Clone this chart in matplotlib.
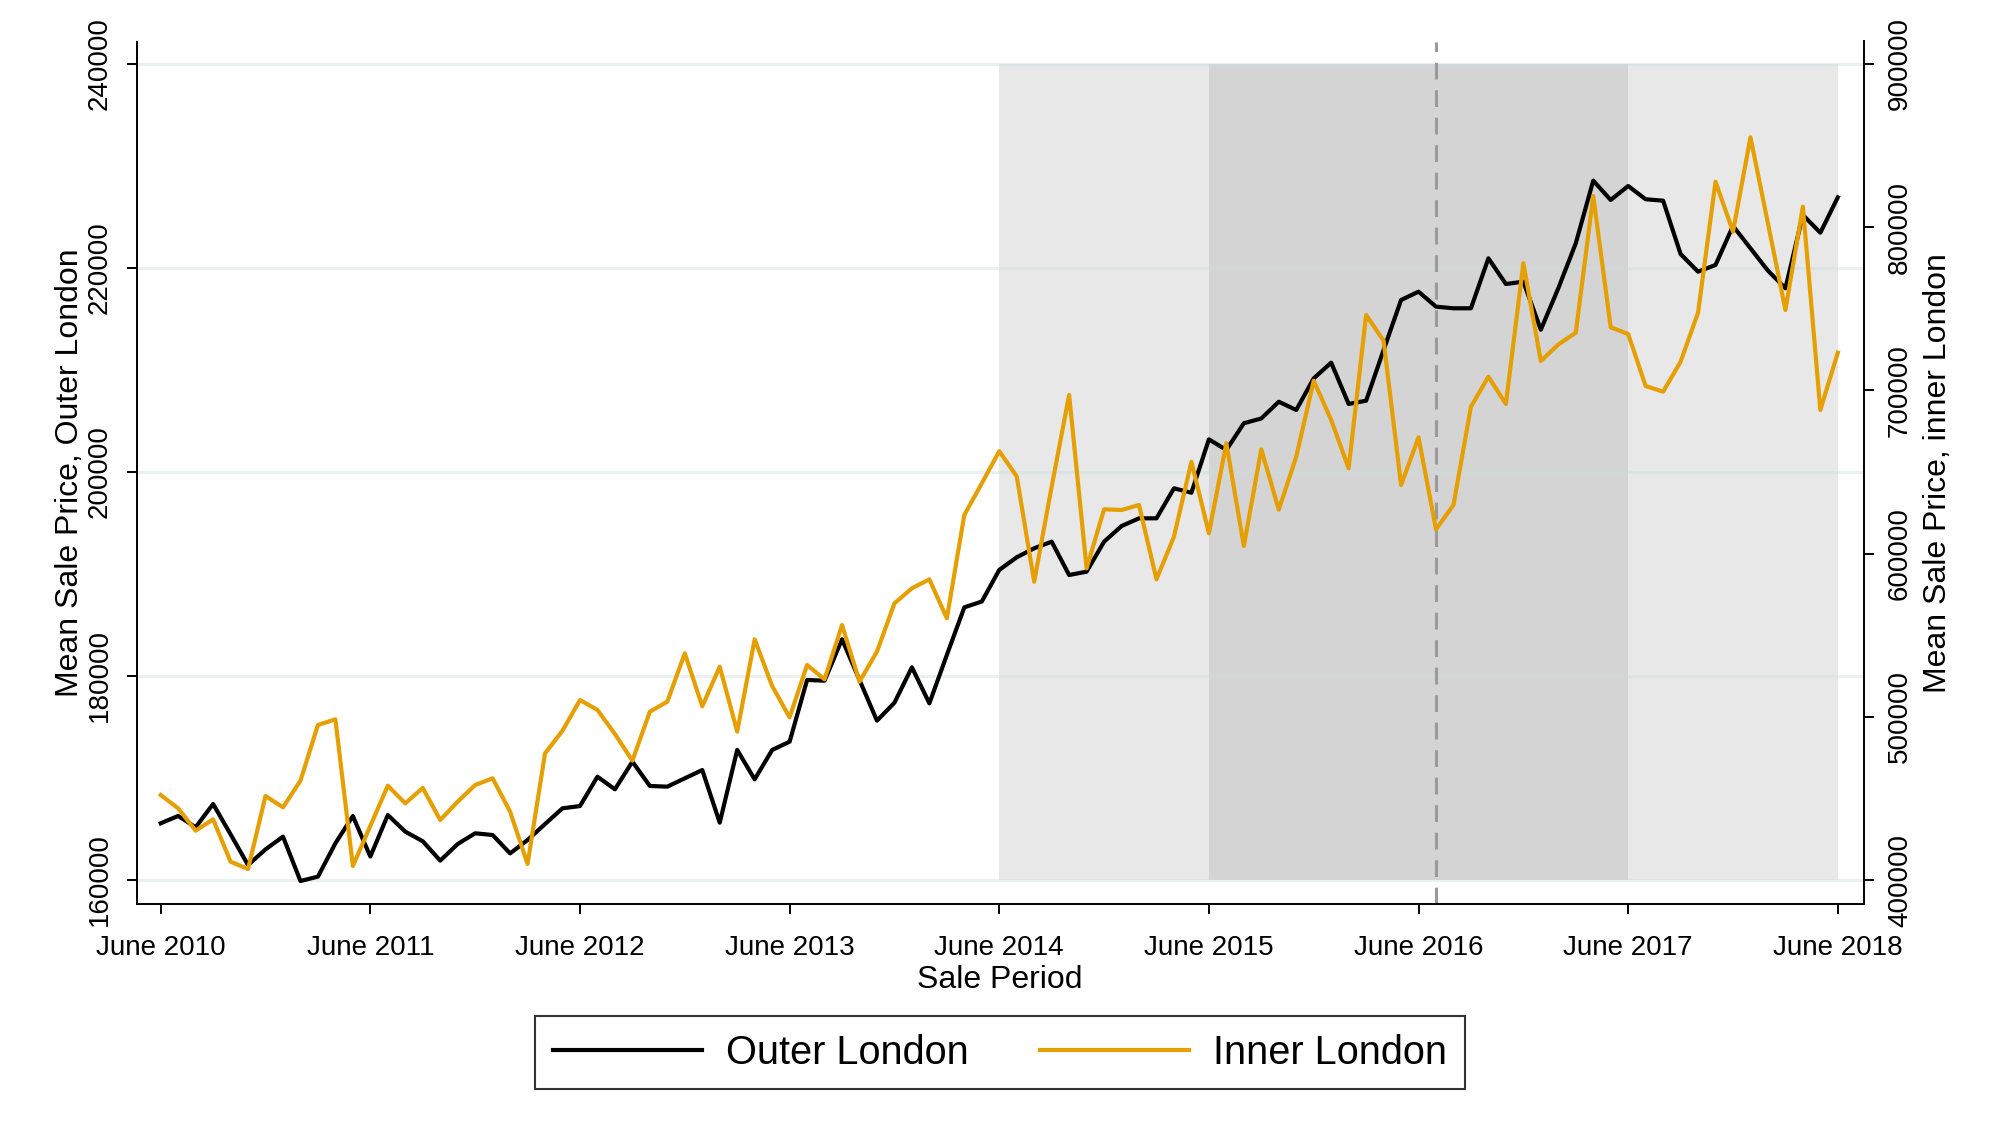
import numpy as np
import matplotlib
matplotlib.use("Agg")
import matplotlib.pyplot as plt

plt.rcParams['font.family'] = ['Liberation Sans', 'DejaVu Sans']

# ---- data (monthly, June 2010 .. June 2018) ----
outer_london = [165560, 166280, 165170, 167450, 164480, 161470, 163000, 164250, 159900, 160330,
                163600, 166270, 162300, 166370, 164740, 163800, 161900, 163530, 164580, 164410,
                162610, 163920, 165490, 167030, 167250, 170130, 168890, 171600, 169220, 169150,
                169970, 170780, 165620, 172750, 169870, 172750, 173560, 179610, 179540, 183600,
                179610, 175620, 177380, 180850, 177320, 182060, 186730, 187300, 190400, 191640,
                192520, 193170, 189900, 190230, 193170, 194700, 195460, 195460, 198400, 197970,
                203200, 202160, 204780, 205250, 206890, 206080, 209180, 210720, 206670, 206990,
                211960, 216860, 217680, 216210, 216050, 216050, 220950, 218430, 218660, 213950,
                218010, 222420, 228560, 226670, 228040, 226740, 226600, 221370, 219640, 220300,
                224120, 221930, 219740, 218010, 225200, 223460, 226930]
inner_london = [452080, 443900, 430230, 437180, 411230, 406740, 451470, 444530, 460860, 494970,
                498440, 408580, 433090, 457790, 446970, 456400, 436760, 447990, 458200, 462300,
                441870, 409800, 477610, 491490, 510290, 504160, 489450, 473120, 503140, 509270,
                538880, 506400, 530700, 490890, 547470, 518860, 499670, 531730, 522950, 556240,
                521520, 539900, 569520, 578710, 584220, 560330, 623640, 643000, 662740, 647300,
                582770, 641000, 697160, 590970, 627120, 626700, 629760, 584220, 610350, 656300,
                612420, 667560, 604640, 663870, 626900, 659360, 705920, 681840, 652250, 746180,
                730430, 642020, 671240, 614870, 629760, 689990, 708370, 691650, 777850, 718000,
                728100, 735340, 819090, 738640, 734530, 702670, 699190, 717560, 747600, 827850,
                797220, 855050, 802360, 749240, 812540, 687970, 723080]
x_tick_labels = ['June 2010', 'June 2011', 'June 2012', 'June 2013', 'June 2014',
                 'June 2015', 'June 2016', 'June 2017', 'June 2018']
left_ticks = [160000, 180000, 200000, 220000, 240000]
right_ticks = [400000, 500000, 600000, 700000, 800000, 900000]
light_period = (48, 96)   # June 2014 - June 2018 (month index)
dark_period = (60, 84)    # June 2015 - June 2017
event_month = 73          # referendum marker

months = np.arange(len(outer_london))
tick_pos = np.arange(0, len(outer_london), 12)

W, H = 2000, 1143
fig = plt.figure(figsize=(W / 100, H / 100), dpi=100)
ax = fig.add_axes([136.5 / W, 1 - 904 / H, (1863.5 - 136.5) / W, (904 - 41.5) / H])
ax2 = ax.twinx()

ORANGE = '#E69F00'

# shading
ax.fill_between(light_period, left_ticks[0], left_ticks[-1], color='#E8E8E8', lw=0, zorder=0)
ax.fill_between(dark_period, left_ticks[0], left_ticks[-1], color='#D4D4D4', lw=0, zorder=0.1)
# grid
for v in left_ticks:
    ax.axhline(v, color=(201/255, 222/255, 224/255, 0.4), lw=2.2, zorder=0.5)

ax.axvline(event_month, color='#9A9A9A', lw=2.2, ls=(0, (5.5, 3.5)), zorder=1)

ax.plot(months, outer_london, color='black', lw=3.0, zorder=3, label='Outer London')
ax2.plot(months, inner_london, color=ORANGE, lw=3.0, zorder=3, label='Inner London')

ax.set_xlim(-1.385, 97.47)
ax.set_ylim(157647, 242206)
ax2.set_ylim(385300, 913750)

ax.set_xticks(tick_pos)
ax.set_xticklabels(x_tick_labels)
ax.set_yticks(left_ticks)
ax.set_yticklabels([str(v) for v in left_ticks], rotation=90, va='center')
ax2.set_yticks(right_ticks)
ax2.set_yticklabels([str(v) for v in right_ticks], rotation=90, va='center')

for a in (ax, ax2):
    a.spines['top'].set_visible(False)
    for s in a.spines.values():
        s.set_linewidth(1.4)
ax.spines['right'].set_visible(False)
ax2.spines['left'].set_visible(False)
ax2.spines['bottom'].set_visible(False)

ax.tick_params(axis='x', direction='out', length=7, width=1.4, labelsize=20, pad=15)
ax.tick_params(axis='y', direction='out', length=7, width=1.4, labelsize=20, pad=10)
ax2.tick_params(axis='y', direction='out', length=7, width=1.4, labelsize=20, pad=10)

ax.set_xlabel('Sale Period', fontsize=23, labelpad=3)
ax.set_ylabel('Mean Sale Price, Outer London', fontsize=23, labelpad=1)
ax2.set_ylabel('Mean Sale Price, inner London', fontsize=23, labelpad=7)

h1, l1 = ax.get_legend_handles_labels()
h2, l2 = ax2.get_legend_handles_labels()
leg = fig.legend(h1 + h2, l1 + l2, loc='center', bbox_to_anchor=(0.5, 1 - 1052.5 / H),
                 ncol=2, fontsize=28.6, frameon=True, fancybox=False, edgecolor='black',
                 handlelength=3.75, handletextpad=0.6, columnspacing=1.8, borderpad=0.45)
leg.get_frame().set_linewidth(1.5)

fig.savefig('out.png', dpi=100)
